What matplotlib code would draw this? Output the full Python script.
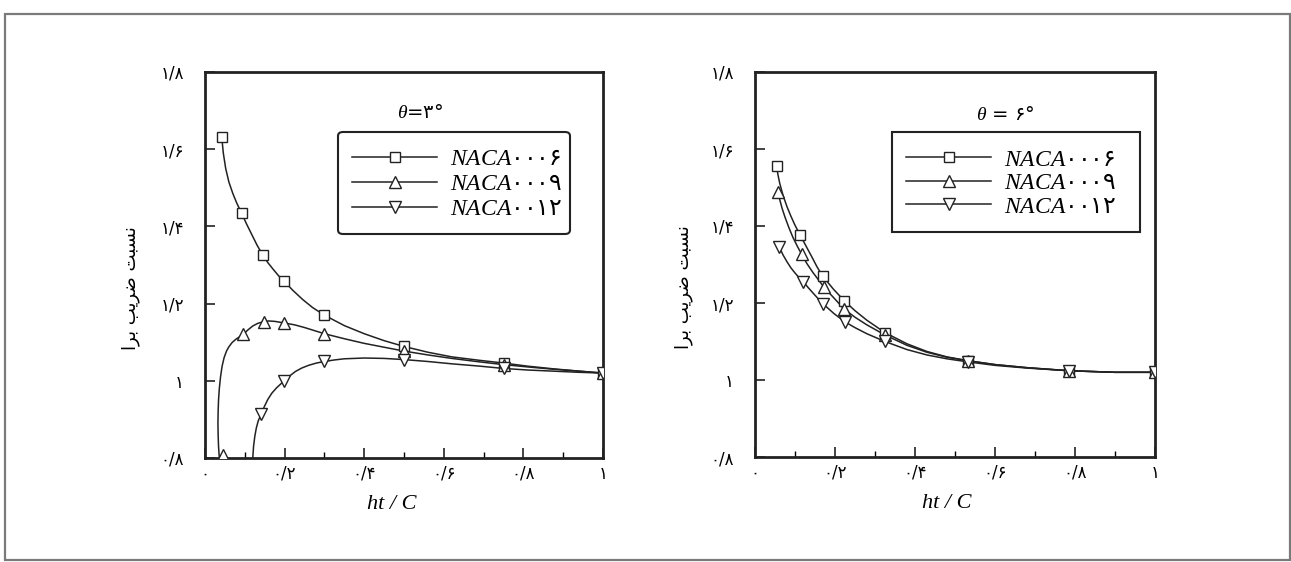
import matplotlib
matplotlib.use("Agg")
import matplotlib.pyplot as plt
from matplotlib.lines import Line2D
from matplotlib.patches import Rectangle

plt.rcParams['font.family'] = ['DejaVu Sans']
plt.rcParams['mathtext.fontset'] = 'custom'
plt.rcParams['mathtext.it'] = 'Liberation Serif:italic'
plt.rcParams['mathtext.rm'] = 'Liberation Serif'

# ---------------- data ----------------
series_labels = [r"$\mathit{NACA}$" + "۰۰۰۶",
                 r"$\mathit{NACA}$" + "۰۰۰۹",
                 r"$\mathit{NACA}$" + "۰۰۱۲"]
series_markers = ["s", "^", "v"]

x_ticks = [0, 0.2, 0.4, 0.6, 0.8, 1.0]
x_ticklabels = ["۰", "۰/۲", "۰/۴", "۰/۶", "۰/۸", "۱"]
y_ticks = [0.8, 1.0, 1.2, 1.4, 1.6, 1.8]
y_ticklabels = ["۰/۸", "۱", "۱/۲", "۱/۴", "۱/۶", "۱/۸"]

# theta = 3 deg panel : measured points
L06_x = [0.042, 0.092, 0.145, 0.199, 0.30, 0.50, 0.75, 1.0]
L06_y = [1.632, 1.434, 1.326, 1.258, 1.170, 1.089, 1.046, 1.020]
L09_x = [0.044, 0.096, 0.147, 0.198, 0.30, 0.50, 0.75, 1.0]
L09_y = [0.808, 1.120, 1.153, 1.150, 1.122, 1.077, 1.042, 1.020]
L12_x = [0.141, 0.198, 0.30, 0.50, 0.75, 1.0]
L12_y = [0.913, 0.999, 1.052, 1.055, 1.032, 1.020]

# theta = 3 deg panel : fitted curves
L06_cx = [0.042, 0.046, 0.052, 0.060, 0.070, 0.080, 0.092, 0.105, 0.118, 0.131, 0.145, 0.158, 0.172,
          0.185, 0.199, 0.220, 0.245, 0.270, 0.30, 0.35, 0.40, 0.45, 0.50, 0.56, 0.62, 0.69, 0.75,
          0.81, 0.875, 0.94, 1.0]
L06_cy = [1.632, 1.590, 1.550, 1.515, 1.485, 1.460, 1.434, 1.405, 1.378, 1.351, 1.326, 1.306, 1.288,
          1.272, 1.258, 1.235, 1.211, 1.190, 1.170, 1.143, 1.122, 1.104, 1.089, 1.074, 1.062, 1.053, 1.046,
          1.038, 1.031, 1.025, 1.020]
L09_cx = [0.036, 0.034, 0.033, 0.0325, 0.033, 0.034, 0.036, 0.039, 0.043, 0.048, 0.054, 0.060, 0.068,
          0.078, 0.096, 0.108, 0.120, 0.133, 0.147, 0.160, 0.175, 0.198, 0.225, 0.250, 0.275, 0.30,
          0.35, 0.40, 0.45, 0.50, 0.56, 0.62, 0.69, 0.75, 0.81, 0.875, 0.94, 1.0]
L09_cy = [0.800, 0.830, 0.860, 0.890, 0.920, 0.950, 0.980, 1.010, 1.038, 1.060, 1.077, 1.088, 1.099,
          1.108, 1.120, 1.132, 1.142, 1.149, 1.153, 1.155, 1.154, 1.150, 1.145, 1.138, 1.130, 1.122,
          1.109, 1.097, 1.087, 1.077, 1.067, 1.058, 1.049, 1.042, 1.036, 1.030, 1.025, 1.020]
L12_cx = [0.120, 0.122, 0.125, 0.129, 0.134, 0.141, 0.149, 0.158, 0.168, 0.180, 0.198, 0.212, 0.227,
          0.243, 0.260, 0.280, 0.30, 0.325, 0.35, 0.40, 0.45, 0.50, 0.56, 0.62, 0.69, 0.75, 0.81,
          0.875, 0.94, 1.0]
L12_cy = [0.800, 0.830, 0.855, 0.878, 0.897, 0.913, 0.933, 0.952, 0.968, 0.982, 0.999, 1.012, 1.024,
          1.033, 1.040, 1.046, 1.050, 1.054, 1.057, 1.059, 1.058, 1.055, 1.050, 1.044, 1.038, 1.032, 1.028,
          1.025, 1.022, 1.020]

# theta = 6 deg panel : measured points
R06_x = [0.054, 0.1125, 0.169, 0.223, 0.325, 0.533, 0.786, 1.0]
R06_y = [1.557, 1.377, 1.270, 1.206, 1.123, 1.050, 1.024, 1.020]
R09_x = [0.058, 0.117, 0.1725, 0.223, 0.325, 0.533, 0.786, 1.0]
R09_y = [1.489, 1.326, 1.241, 1.184, 1.117, 1.050, 1.024, 1.020]
R12_x = [0.061, 0.121, 0.171, 0.225, 0.325, 0.533, 0.786, 1.0]
R12_y = [1.345, 1.255, 1.197, 1.151, 1.100, 1.047, 1.024, 1.020]

# theta = 6 deg panel : fitted curves
R06_cx = [0.054, 0.057, 0.062, 0.070, 0.080, 0.090, 0.100, 0.1125, 0.127, 0.142, 0.155, 0.169, 0.196,
          0.223, 0.250, 0.280, 0.325, 0.38, 0.43, 0.48, 0.533, 0.60, 0.68, 0.786, 0.90, 1.0]
R06_cy = [1.557, 1.535, 1.510, 1.480, 1.450, 1.425, 1.402, 1.377, 1.349, 1.320, 1.294, 1.270, 1.236,
          1.206, 1.180, 1.155, 1.123, 1.094, 1.074, 1.060, 1.050, 1.040, 1.032, 1.024, 1.020, 1.020]
R09_cx = [0.058, 0.062, 0.068, 0.075, 0.085, 0.095, 0.106, 0.117, 0.130, 0.145, 0.1725, 0.200, 0.223,
          0.250, 0.280, 0.325, 0.38, 0.43, 0.48, 0.533, 0.60, 0.68, 0.786, 0.90, 1.0]
R09_cy = [1.489, 1.468, 1.445, 1.423, 1.395, 1.370, 1.347, 1.326, 1.302, 1.279, 1.241, 1.210, 1.184,
          1.163, 1.143, 1.117, 1.090, 1.072, 1.059, 1.050, 1.040, 1.032, 1.024, 1.020, 1.020]
R12_cx = [0.061, 0.070, 0.080, 0.090, 0.100, 0.110, 0.121, 0.133, 0.145, 0.158, 0.171, 0.198, 0.225,
          0.250, 0.280, 0.325, 0.38, 0.43, 0.48, 0.533, 0.60, 0.68, 0.786, 0.90, 1.0]
R12_cy = [1.345, 1.325, 1.307, 1.291, 1.278, 1.266, 1.255, 1.240, 1.226, 1.211, 1.197, 1.172, 1.151,
          1.136, 1.120, 1.100, 1.079, 1.065, 1.055, 1.047, 1.038, 1.031, 1.024, 1.020, 1.020]

theta_labels = [r"$\theta$" + "=۳°", r"$\theta$" + " = ۶°"]
x_label = "ht / C"
# "نسبت ضریب برا" pre-shaped, visual order
y_label = "\uFE8D\uFEAE\uFE91 \uFE90\uFEF3\uFEAE\uFEBF \uFE96\uFE92\uFEB4\uFEE7"

panels = [
    dict(pts=[(L06_x, L06_y), (L09_x, L09_y), (L12_x, L12_y)],
         crv=[(L06_cx, L06_cy), (L09_cx, L09_cy), (L12_cx, L12_cy)],
         theta=theta_labels[0], rect=[205/1291, 1-458/562, 398/1291, 386/562],
         fancy=True, leg_box=(0.334, 0.593, 0.583, 0.239), theta_pos=(0.54, 0.895),
         ylab_x=-0.163, xlab_x=0.47, lspace=0.05),
    dict(pts=[(R06_x, R06_y), (R09_x, R09_y), (R12_x, R12_y)],
         crv=[(R06_cx, R06_cy), (R09_cx, R09_cy), (R12_cx, R12_cy)],
         theta=theta_labels[1], rect=[755/1291, 1-457/562, 400/1291, 385/562],
         fancy=False, leg_box=(0.3425, 0.596, 0.62, 0.236), theta_pos=(0.625, 0.89),
         ylab_x=-0.155, xlab_x=0.48, lspace=-0.02),
]

fig = plt.figure(figsize=(12.91, 5.62), dpi=100)
fig.patches.append(Rectangle((5/1291, 2/562), 1285/1291, 546/562, transform=fig.transFigure,
                             fill=False, edgecolor="#7a7a7a", linewidth=1.6))

for p in panels:
    ax = fig.add_axes(p["rect"])
    for (cx, cy) in p["crv"]:
        ax.plot(cx, cy, color="#222222", linewidth=1.1, zorder=2)
    for (px, py), m in zip(p["pts"], series_markers):
        ax.plot(px, py, linestyle="none", marker=m, markersize=8 if m != "s" else 7.5,
                markerfacecolor="white", markeredgecolor="#222222", markeredgewidth=1.0, zorder=3)
    ax.set_xlim(0, 1)
    ax.set_ylim(0.8, 1.8)
    ax.set_xticks(x_ticks)
    ax.set_xticklabels(x_ticklabels, fontsize=12)
    ax.set_xticks([0.1, 0.3, 0.5, 0.7, 0.9], minor=True)
    ax.set_yticks(y_ticks)
    ax.set_yticklabels(y_ticklabels, fontsize=12)
    ax.tick_params(axis="both", which="major", direction="in", length=7, width=1.2, color="#222222")
    ax.tick_params(axis="x", which="major", pad=5)
    ax.tick_params(axis="y", which="major", pad=15)
    ax.tick_params(axis="x", which="minor", direction="in", length=4, width=1.0)
    for s in ax.spines.values():
        s.set_linewidth(2.0)
        s.set_color("#222222")
    ax.set_xlabel(x_label, fontsize=16, family="Liberation Serif", style="italic")
    ax.xaxis.set_label_coords(p["xlab_x"], -0.095)
    ax.set_ylabel(y_label, fontsize=13, family="DejaVu Sans", rotation=90)
    ax.yaxis.set_label_coords(p["ylab_x"], 0.44)
    ax.text(p["theta_pos"][0], p["theta_pos"][1], p["theta"], transform=ax.transAxes,
            ha="center", va="center", fontsize=14, family="DejaVu Sans")
    handles = [Line2D([], [], color="#222222", linewidth=1.1, marker=m,
                      markersize=8 if m != "s" else 7.5, markerfacecolor="white",
                      markeredgecolor="#222222") for m in series_markers]
    leg = ax.legend(handles, series_labels, loc="center", bbox_to_anchor=p["leg_box"],
                    bbox_transform=ax.transAxes, mode="expand", fancybox=p["fancy"],
                    framealpha=1, edgecolor="#222222", handlelength=3.6, handletextpad=0.55,
                    labelspacing=p["lspace"], borderpad=0.6, borderaxespad=0,
                    prop=dict(family="DejaVu Sans", size=17))
    leg.get_frame().set_linewidth(1.5)

fig.savefig("out.png", dpi=100, facecolor="white")
